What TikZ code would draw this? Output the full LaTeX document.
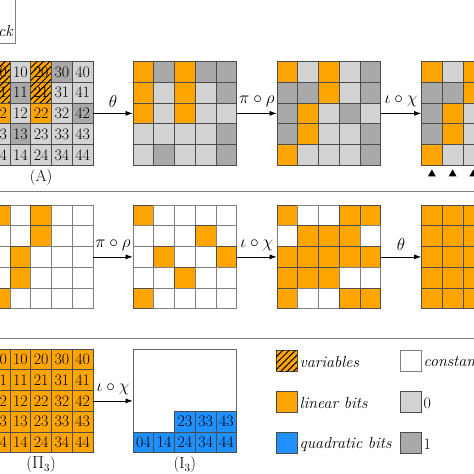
\documentclass[tikz,border=0pt]{standalone}
\usepackage{fontspec}
\usetikzlibrary{arrows.meta,patterns.meta,shapes.geometric}
\definecolor{orgc}{HTML}{FFA500}
\definecolor{lgc}{HTML}{D3D3D3}
\definecolor{dgc}{HTML}{A9A9A9}
\definecolor{bluc}{HTML}{1E90FF}
\tikzset{
  cell/.style={rectangle, minimum size=20.75pt, inner sep=0pt, line width=0.8pt, draw=black!70},
  lsq/.style={cell, minimum size=21pt},
  cO/.style={fill=orgc},
  cH/.style={fill=orgc, postaction={pattern={Lines[angle=45,distance=4.5pt,line width=1pt]}, pattern color=black}},
  cL/.style={fill=lgc},
  cD/.style={fill=dgc},
  cW/.style={fill=white, draw=black!50},
  cB/.style={fill=bluc},
  arr/.style={-{Latex[length=7pt,width=5pt]}, line width=0.7pt},
  lab/.style={above=5pt, inner sep=1pt},
  sepline/.style={draw=black!50, line width=1.2pt},
  tri/.style={regular polygon, regular polygon sides=3, fill=black, inner sep=0pt, minimum size=9pt},
  ltxt/.style={anchor=west, inner sep=2pt, yshift=-1.5pt},
  gridcap/.style={below=0pt}
}
\newcommand\cellgrid[5]{%
  \foreach \row [count=\r from 0] in {#4} {
    \foreach \c [count=\k from 0] in \row {
      \node[cell,\c] (#1-\k-\r) at ({#2+(\k+0.5)*20.75},{#3+(\r+0.5)*20.75}) {\ifnum#5=1 \k\r\fi};
    }
  }}
\begin{document}
\begin{tikzpicture}[x=1pt,y=-1pt,font=\fontsize{16}{18}\selectfont]
\useasboundingbox (0,0) rectangle (474,474);

% top-left box
\node[draw=black!50, line width=0.8pt, minimum width=40pt, minimum height=50pt, anchor=south east, inner sep=0pt] (keybox) at (16,43.5) {};
\node[anchor=base east, inner sep=0pt] (keytxt) at (13.5,36) {\textit{ck}};

% row 1
\cellgrid{A}{-10.75}{61.5}{{cH,cL,cH,cD,cL},{cH,cD,cH,cL,cL},{cO,cL,cO,cL,cD},{cL,cD,cL,cL,cL},{cL,cL,cL,cL,cL}}{1}
\cellgrid{G}{133}{61.5}{{cO,cD,cO,cD,cD},{cO,cL,cO,cL,cD},{cO,cL,cO,cL,cL},{cL,cL,cL,cL,cD},{cL,cD,cL,cL,cD}}{0}
\cellgrid{H}{277}{61.5}{{cO,cL,cO,cL,cD},{cD,cD,cO,cL,cD},{cD,cO,cL,cD,cL},{cD,cO,cL,cL,cD},{cO,cL,cL,cL,cD}}{0}
\cellgrid{J}{421.5}{61.5}{{cO,cL,cO},{cD,cD,cO},{cD,cO,cL},{cD,cO,cL},{cO,cL,cL}}{0}
\node[gridcap] (capA) at (A-2-4.south) {(A)};
\draw[arr] (A-4-2.east) -- node[lab] {$\theta$} (G-0-2.west);
\draw[arr] (G-4-2.east) -- node[lab] {$\pi\circ\rho$} (H-0-2.west);
\draw[arr] (H-4-2.east) -- node[lab] {$\iota\circ\chi$} (J-0-2.west);
\foreach \k in {0,1,2} \node[tri] (t\k) at ({421.5+(\k+0.5)*20.75},174) {};

\draw[sepline] (0,191.5) -- (474,191.5);

% row 2
\cellgrid{B}{-10.75}{205}{{cO,cW,cO,cW,cW},{cW,cW,cO,cW,cW},{cW,cO,cW,cW,cW},{cW,cO,cW,cW,cW},{cO,cW,cW,cW,cW}}{0}
\cellgrid{C}{133}{205}{{cO,cW,cW,cW,cW},{cW,cW,cW,cO,cW},{cW,cO,cW,cW,cO},{cW,cW,cO,cW,cW},{cO,cW,cW,cW,cW}}{0}
\cellgrid{D}{277}{205}{{cO,cW,cW,cO,cO},{cW,cO,cO,cO,cW},{cO,cO,cO,cO,cO},{cO,cO,cO,cW,cW},{cO,cW,cW,cO,cO}}{0}
\cellgrid{E}{421.5}{205}{{cO,cO,cO},{cO,cO,cO},{cO,cO,cO},{cO,cO,cO},{cO,cO,cO}}{0}
\draw[arr] (B-4-2.east) -- node[lab] {$\pi\circ\rho$} (C-0-2.west);
\draw[arr] (C-4-2.east) -- node[lab] {$\iota\circ\chi$} (D-0-2.west);
\draw[arr] (D-4-2.east) -- node[lab] {$\theta$} (E-0-2.west);

\draw[sepline] (0,338.5) -- (474,338.5);

% row 3
\cellgrid{P}{-10.75}{349}{{cO,cO,cO,cO,cO},{cO,cO,cO,cO,cO},{cO,cO,cO,cO,cO},{cO,cO,cO,cO,cO},{cO,cO,cO,cO,cO}}{1}
\node[draw=black!60, line width=0.8pt, minimum size=103.75pt, inner sep=0pt] (I3) at (184.875,400.875) {};
\foreach \k in {2,3,4} \node[cell,cB] (I-\k-3) at ({133+(\k+0.5)*20.75},{349+3.5*20.75}) {\k3};
\foreach \k in {0,...,4} \node[cell,cB] (I-\k-4) at ({133+(\k+0.5)*20.75},{349+4.5*20.75}) {\k4};
\node[gridcap] (capP) at (P-2-4.south) {($\Pi_3$)};
\node[gridcap] (capI) at (I-2-4.south) {($\mathrm{I}_3$)};
\draw[arr] (P-4-2.east) -- node[lab] {$\iota\circ\chi$} (I3.west);

% legend
\node[lsq,cH] (lv) at (286.5,360.5) {};
\node[lsq,cO] (ll) at (286.5,401.5) {};
\node[lsq,cB] (lq) at (286.5,442.5) {};
\node[lsq,cW] (lc) at (410.5,360.5) {};
\node[lsq,cL] (l0) at (410.5,401.5) {};
\node[lsq,cD] (l1) at (410.5,442.5) {};
\node[ltxt] (tv) at (lv.east) {\textit{variables}};
\node[ltxt] (tl) at (ll.east) {\textit{linear bits}};
\node[ltxt] (tq) at (lq.east) {\textit{quadratic bits}};
\node[ltxt] (tc) at (lc.east) {\textit{constants}};
\node[ltxt] (t0) at (l0.east) {0};
\node[ltxt] (t1) at (l1.east) {1};
\end{tikzpicture}
\end{document}
